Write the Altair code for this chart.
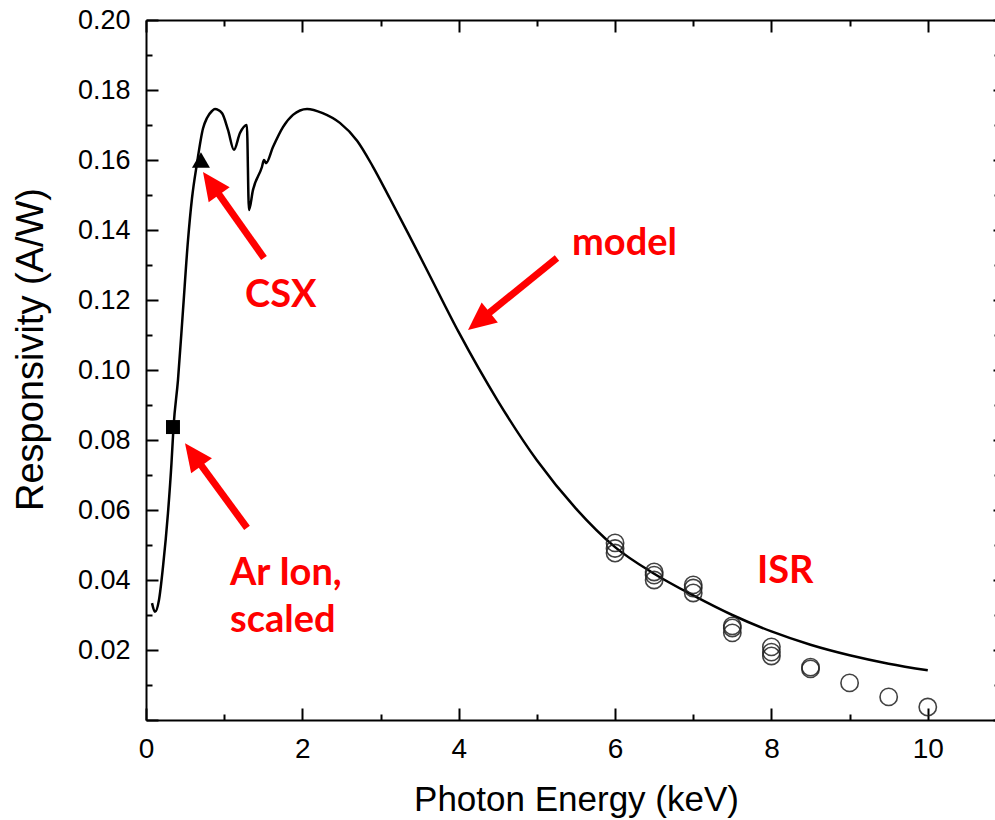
import math
import altair as alt
import pandas as pd

# ---------------- data ----------------
model_e = [0.077, 0.115, 0.166, 0.217, 0.281, 0.326, 0.352, 0.409, 0.473, 0.537, 0.588,
           0.652, 0.729, 0.780, 0.844, 0.882, 0.972, 1.049, 1.125, 1.202, 1.290, 1.317,
           1.368, 1.483, 1.509, 1.535, 1.624, 1.752, 1.880, 2.060, 2.260, 2.480, 2.700,
           2.900, 3.120, 3.350, 3.600, 4.000, 4.500, 5.000, 5.500, 6.000, 6.500, 7.000,
           7.500, 8.000, 8.500, 9.000, 9.500, 10.000]
model_r = [0.0334, 0.0309, 0.0343, 0.0437, 0.0591, 0.0734, 0.0837, 0.0971, 0.1170, 0.1370, 0.1490,
           0.1590, 0.1690, 0.1720, 0.1740, 0.1746, 0.1734, 0.1686, 0.1629, 0.1677, 0.1700, 0.1457,
           0.1514, 0.1580, 0.1600, 0.1591, 0.1637, 0.1694, 0.1729, 0.1746, 0.1734, 0.1706, 0.1655,
           0.1582, 0.1490, 0.1392, 0.1283, 0.1108, 0.0912, 0.0742, 0.0604, 0.0494, 0.0418, 0.0356,
           0.0300, 0.0253, 0.0215, 0.0185, 0.0161, 0.0142]

isr_e = [6, 6, 6, 6.5, 6.5, 6.5, 7, 7, 7, 7.5, 7.5, 7.5, 8, 8, 8, 8.5, 8.5, 9, 9.5, 10]
isr_r = [0.0506, 0.0490, 0.0477, 0.0423, 0.0414, 0.0400, 0.0386, 0.0377, 0.0363,
         0.0269, 0.0263, 0.0249, 0.0209, 0.0194, 0.0183, 0.0151, 0.0146, 0.0106, 0.0066, 0.0037]

csx_e = [0.703]
csx_r = [0.160]
arion_e = [0.345]
arion_r = [0.0837]

label_text = ["CSX", "model", "ISR", "Ar Ion,", "scaled"]
label_e = [1.267, 5.449, 7.815, 1.074, 1.074]
label_r = [0.118, 0.1329, 0.0391, 0.0386, 0.0251]

arrow_tail_e = [1.509, 5.257, 1.292]
arrow_tail_r = [0.132, 0.132, 0.0549]
arrow_tip_e = [0.729, 4.119, 0.499]
arrow_tip_r = [0.1566, 0.1114, 0.0791]

x_major = [0, 2, 4, 6, 8, 10]
x_minor = [1, 3, 5, 7, 9]
y_labels = [0.02, 0.04, 0.06, 0.08, 0.10, 0.12, 0.14, 0.16, 0.18, 0.20]
y_major = [0.0, 0.02, 0.04, 0.06, 0.08, 0.10, 0.12, 0.14, 0.16, 0.18, 0.20]
y_minor = [0.01, 0.03, 0.05, 0.07, 0.09, 0.11, 0.13, 0.15, 0.17, 0.19]

# ---------------- layout constants ----------------
W, H = 849, 700
X_DOM = [0, 10.86]
Y_DOM = [0, 0.2]
PX_X = W / (X_DOM[1] - X_DOM[0])
PX_Y = H / (Y_DOM[1] - Y_DOM[0])
FONT = "Liberation Sans"
RED = "#ff0000"

xs = alt.Scale(domain=X_DOM, nice=False, zero=False)
ys = alt.Scale(domain=Y_DOM, nice=False, zero=False)

# arrows
arr_rows = []
for te, tr, pe, pr in zip(arrow_tail_e, arrow_tail_r, arrow_tip_e, arrow_tip_r):
    dx = (pe - te) * PX_X
    dy = -(pr - tr) * PX_Y
    L = math.hypot(dx, dy)
    f = 1 - 14.0 / L
    ang = math.degrees(math.atan2(dx, -dy)) % 360
    arr_rows.append(dict(e=te, r=tr, e2=te + f * (pe - te), r2=tr + f * (pr - tr),
                         te=pe, tr=pr, ang=ang))
arr_df = pd.DataFrame(arr_rows)

model_df = pd.DataFrame({"e": model_e, "r": model_r})
isr_df = pd.DataFrame({"e": isr_e, "r": isr_r})
csx_df = pd.DataFrame({"e": csx_e, "r": csx_r})
ar_df = pd.DataFrame({"e": arion_e, "r": arion_r})
lab_df = pd.DataFrame({"e": label_e, "r": label_r, "t": label_text})

# ---------------- axes ----------------
common = dict(grid=False, domainColor="black", tickColor="black", labelColor="black")

ax_bottom_main = alt.Axis(orient="bottom", values=x_major, format="d", ticks=False, tickSize=0,
                          domain=True, domainWidth=2, labelFont=FONT, labelFontSize=28,
                          labelPadding=37, labelBaseline="alphabetic", labelFlush=False,
                          title="Photon Energy (keV)", titleFont=FONT, titleFontSize=35,
                          titleFontWeight="normal", titleColor="black", titleX=430, titleY=90,
                          titleBaseline="alphabetic", titleAlign="center", **common)
ax_bottom_major = alt.Axis(orient="bottom", values=x_major, labels=False, domain=False,
                           tickSize=12, tickWidth=2, offset=-12, title=None, **common)
ax_bottom_minor = alt.Axis(orient="bottom", values=x_minor, labels=False, domain=False,
                           tickSize=6, tickWidth=2, offset=-6, title=None, **common)
ax_top_domain = alt.Axis(orient="top", values=x_major, labels=False, ticks=False, tickSize=0,
                         domain=True, domainWidth=2, title=None, **common)
ax_top_major = alt.Axis(orient="top", values=x_major, labels=False, domain=False,
                        tickSize=12, tickWidth=2, offset=-12, title=None, **common)
ax_top_minor = alt.Axis(orient="top", values=x_minor, labels=False, domain=False,
                        tickSize=6, tickWidth=2, offset=-6, title=None, **common)

ay_left_main = alt.Axis(orient="left", values=y_labels, format=".2f", ticks=False, tickSize=0,
                        domain=True, domainWidth=2, labelFont=FONT, labelFontSize=27,
                        labelPadding=16, labelFlush=False, title="Responsivity (A/W)",
                        titleFont=FONT, titleFontSize=38, titleFontWeight="normal",
                        titleColor="black", titleAngle=270, titleX=-104, titleY=329,
                        titleBaseline="alphabetic", titleAlign="center", **common)
ay_left_major = alt.Axis(orient="left", values=y_major, labels=False, domain=False,
                         tickSize=12, tickWidth=2, offset=-12, title=None, **common)
ay_left_minor = alt.Axis(orient="left", values=y_minor, labels=False, domain=False,
                         tickSize=6, tickWidth=2, offset=-6, title=None, **common)
ay_right_major = alt.Axis(orient="right", values=y_major, labels=False, domain=False,
                          tickSize=12, tickWidth=2, offset=-2, title=None, **common)
ay_right_minor = alt.Axis(orient="right", values=y_minor, labels=False, domain=False,
                          tickSize=6, tickWidth=2, offset=-1, title=None, **common)


def X(ax):
    return alt.X("e:Q", scale=xs, axis=ax)


def Y(ax):
    return alt.Y("r:Q", scale=ys, axis=ax)


line = alt.Chart(model_df).mark_line(color="black", strokeWidth=2.5,
                                     interpolate="monotone").encode(
    x=X(ax_bottom_main), y=Y(ay_left_main), order="e:Q")

circles = alt.Chart(isr_df).mark_point(shape="circle", filled=False, color="#222222",
                                       strokeWidth=1.6, size=300, opacity=0.85).encode(
    x=X(ax_bottom_major), y=Y(ay_left_major))

square = alt.Chart(ar_df).mark_point(shape="square", filled=True, color="black",
                                     size=196, opacity=1).encode(
    x=X(ax_bottom_minor), y=Y(ay_left_minor))

triangle = alt.Chart(csx_df).mark_point(shape="triangle-up", filled=True, color="black",
                                        size=324, opacity=1).encode(
    x=X(ax_top_domain), y=Y(ay_right_major))

arrow_lines = alt.Chart(arr_df).mark_rule(color=RED, strokeWidth=7, strokeCap="butt").encode(
    x=X(ax_top_major), y=Y(ay_right_minor), x2="e2:Q", y2="r2:Q")

arrow_heads = alt.Chart(arr_df).mark_point(shape="M0,0L-0.46,1L0.46,1Z", filled=True,
                                           color=RED, size=3136, opacity=1,
                                           strokeWidth=0).encode(
    x=alt.X("te:Q", scale=xs, axis=ax_top_minor),
    y=alt.Y("tr:Q", scale=ys, axis=None),
    angle=alt.Angle("ang:Q", scale=None))

labels = alt.Chart(lab_df).mark_text(align="left", baseline="alphabetic", font="Lato",
                                     fontWeight="bold", fontSize=38, color=RED).encode(
    x=alt.X("e:Q", scale=xs, axis=None), y=alt.Y("r:Q", scale=ys, axis=None), text="t:N")

chart = alt.layer(line, circles, square, triangle, arrow_lines, arrow_heads, labels).resolve_scale(
    x="shared", y="shared").resolve_axis(x="independent", y="independent").properties(
    width=W, height=H,
    padding={"left": 146, "top": 20, "right": 0, "bottom": 100},
    autosize=alt.AutoSizeParams(type="none"),
    background="white",
).configure_view(stroke=None)

chart.save("out.html", embed_options={"renderer": "svg", "actions": False})
